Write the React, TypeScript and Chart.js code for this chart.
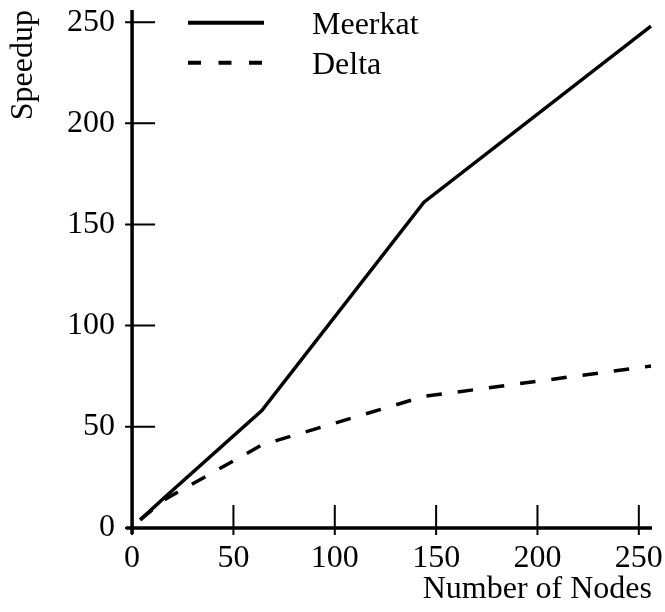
import React, { useEffect, useRef } from "react";
import { Chart, registerables } from "chart.js";

Chart.register(...registerables);

const nodes = [4, 16, 64, 144, 256];
const meerkat = [4, 15, 58, 161, 248];
const delta = [4, 14, 41, 65, 80];
const xTicks = [0, 50, 100, 150, 200, 250];
const yTicks = [0, 50, 100, 150, 200, 250];
const seriesNames = ["Meerkat", "Delta"];
const xTitle = "Number of Nodes";
const yTitle = "Speedup";

const FONT = "'Liberation Serif', 'Times New Roman', serif";
const FS = 32;

const zeroPad = (s: any) => {
  s.paddingTop = 0;
  s.paddingBottom = 0;
  s.paddingLeft = 0;
  s.paddingRight = 0;
};

const axesPlugin = {
  id: "crossAxes",
  afterDatasetsDraw(chart: any) {
    const { ctx, chartArea, scales } = chart;
    const xs = scales.x;
    const ys = scales.y;
    const x0 = xs.getPixelForValue(0);
    const y0 = ys.getPixelForValue(0);
    ctx.save();
    ctx.strokeStyle = "#000";
    ctx.setLineDash([]);
    ctx.lineWidth = 3.5;
    ctx.beginPath();
    ctx.moveTo(chartArea.left, y0);
    ctx.lineTo(chartArea.right, y0);
    ctx.moveTo(x0, chartArea.top);
    ctx.lineTo(x0, chartArea.bottom);
    ctx.stroke();
    ctx.lineWidth = 2;
    ctx.beginPath();
    xTicks.forEach((v) => {
      const px = xs.getPixelForValue(v);
      ctx.moveTo(px, y0 - 23);
      ctx.lineTo(px, y0 + 7);
    });
    yTicks.forEach((v) => {
      const py = ys.getPixelForValue(v);
      ctx.moveTo(x0 - 7, py);
      ctx.lineTo(x0 + 23, py);
    });
    ctx.stroke();

    // legend
    const items = chart.data.datasets;
    const rows = [22.7, 62.7];
    items.forEach((ds: any, i: number) => {
      const y = rows[i];
      ctx.lineWidth = 4;
      ctx.setLineDash(ds.borderDash && ds.borderDash.length ? [13, 17.5] : []);
      ctx.beginPath();
      ctx.moveTo(188, y);
      ctx.lineTo(264, y);
      ctx.stroke();
      ctx.setLineDash([]);
      ctx.fillStyle = "#000";
      ctx.font = `${FS}px ${FONT}`;
      ctx.textBaseline = "alphabetic";
      ctx.textAlign = "left";
      ctx.fillText(ds.label, 312, y + 10.8);
    });
    ctx.restore();
  },
};

export default function App() {
  const ref = useRef<HTMLCanvasElement>(null);
  useEffect(() => {
    if (!ref.current) return;
    const chart = new Chart(ref.current, {
      type: "line",
      data: {
        datasets: [
          {
            label: seriesNames[0],
            data: nodes.map((n, i) => ({ x: n, y: meerkat[i] })),
            borderColor: "#000",
            borderWidth: 3.5,
            pointRadius: 0,
            tension: 0,
            fill: false,
          },
          {
            label: seriesNames[1],
            data: nodes.map((n, i) => ({ x: n, y: delta[i] })),
            borderColor: "#000",
            borderWidth: 3.5,
            borderDash: [15.5, 16],
            pointRadius: 0,
            tension: 0,
            fill: false,
          },
        ],
      },
      plugins: [axesPlugin],
      options: {
        animation: false,
        responsive: false,
        layout: { padding: { top: 10, right: 13, left: 0, bottom: 0 } },
        plugins: { legend: { display: false }, tooltip: { enabled: false } },
        scales: {
          x: {
            type: "linear",
            min: -3,
            max: 256.5,
            border: { display: false },
            grid: { display: false, drawTicks: false },
            afterBuildTicks: (s: any) => {
              s.ticks = xTicks.map((v) => ({ value: v }));
            },
            afterFit: (s: any) => {
              s.height = 78;
              zeroPad(s);
            },
            ticks: {
              color: "#000",
              font: { family: FONT, size: FS },
              padding: 5,
              maxRotation: 0,
              autoSkip: false,
            },
            title: {
              display: true,
              text: xTitle,
              align: "end",
              color: "#000",
              font: { family: FONT, size: FS },
              padding: { top: 0, bottom: 3 },
            },
          },
          y: {
            type: "linear",
            min: -3,
            max: 256,
            border: { display: false },
            grid: { display: false, drawTicks: false },
            afterBuildTicks: (s: any) => {
              s.ticks = yTicks.map((v) => ({ value: v }));
            },
            afterFit: (s: any) => {
              s.width = 126;
              zeroPad(s);
            },
            ticks: {
              color: "#000",
              font: { family: FONT, size: FS },
              padding: 11,
              autoSkip: false,
            },
            title: {
              display: true,
              text: yTitle,
              align: "end",
              color: "#000",
              font: { family: FONT, size: FS },
              padding: { top: 4, bottom: 0 },
            },
          },
        },
      },
    });
    return () => chart.destroy();
  }, []);
  return (
    <div style={{ position: "absolute", left: 0, top: 0, width: 665, height: 612, background: "#fff" }}>
      <canvas ref={ref} width={665} height={612} style={{ display: "block" }} />
    </div>
  );
}
